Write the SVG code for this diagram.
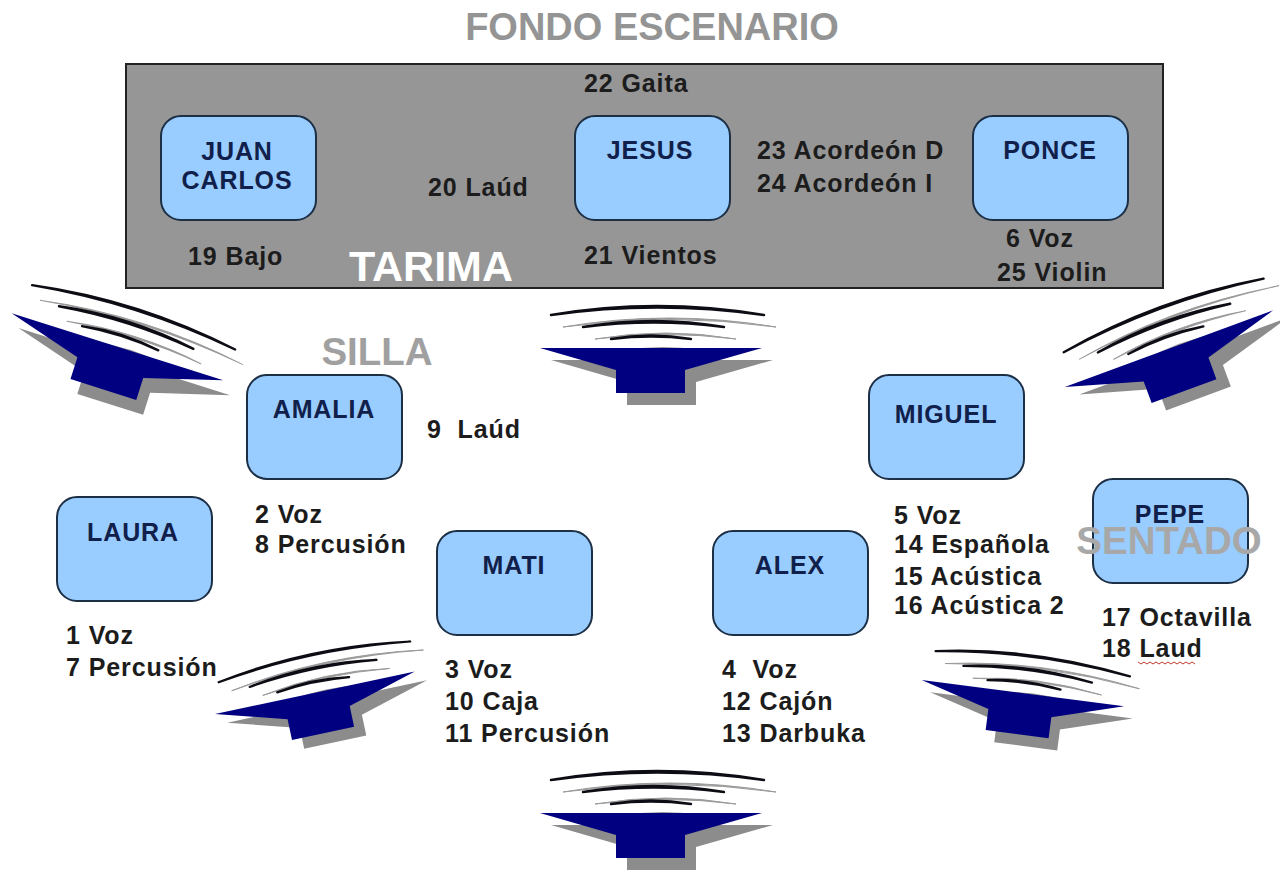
<svg xmlns="http://www.w3.org/2000/svg" width="1280" height="870" viewBox="0 0 1280 870">
<style>
text{font-family:"Liberation Sans",Arial,sans-serif;font-weight:bold;fill:#1c1c1c;font-size:25px;letter-spacing:.9px}
.n{fill:#99ccff;stroke:#1c2f45;stroke-width:2}
.t{fill:#10204a}
.m{text-anchor:middle}
.g{fill:#949494;letter-spacing:0}
.a{fill:#0c0c14;stroke:#0c0c14;stroke-width:2.4;stroke-linejoin:round}
.s{fill:#8c8c8c}
.w{fill:#9a9a9a;stroke:#9a9a9a;stroke-width:1}
</style>
<defs>
<path id="body" d="M-110,0H112L35,22V45H-34V22Z"/>
<g id="arcs">
<path d="M-99,-33Q7,-51 114,-33Q7,-48 -99,-33Z"/>
<path d="M-67,-21Q4,-33 74,-21Q4,-30 -67,-21Z"/>
<path d="M-39,-9Q1,-16 41,-9Q1,-14 -39,-9Z"/>
</g>
<g id="sp">
<use href="#body" x="11" y="12" class="s"/>
<use href="#arcs" x="12" y="12" class="w"/>
<use href="#body" fill="#000080"/>
<use href="#arcs" class="a"/>
</g>
</defs>
<rect width="1280" height="870" fill="#fff"/>
<g id="speakers">
<use href="#sp" transform="translate(116.5,346.5) rotate(17.6)"/>
<use href="#sp" transform="translate(650,348)"/>
<use href="#sp" transform="translate(1168,349) rotate(-20.2)"/>
<use href="#sp" transform="translate(314,693) rotate(-12) scale(.92)"/>
<use href="#sp" transform="translate(1022,693) rotate(7.4) scale(.92)"/>
<use href="#sp" transform="translate(650,813)"/>
</g>
<g id="tarima">
<rect x="126" y="64" width="1037" height="224" fill="#969696" stroke="#222" stroke-width="2"/>
<text x="652" y="40" class="m g" style="font-size:38px">FONDO ESCENARIO</text>
<text x="431" y="281" class="m" style="fill:#fff;font-size:43px;letter-spacing:0">TARIMA</text>
</g>
<text x="377" y="365" class="m g" style="font-size:38.5px;fill:#a0a0a0">SILLA</text>
<g id="juan"><rect class="n" x="161" y="116" width="155" height="104" rx="20"/><text x="237" y="160" class="m t">JUAN</text><text x="237" y="189" class="m t">CARLOS</text></g>
<g id="jesus"><rect class="n" x="575" y="116" width="155" height="104" rx="20"/><text x="650" y="159" class="m t">JESUS</text></g>
<g id="ponce"><rect class="n" x="973" y="116" width="155" height="104" rx="20"/><text x="1050" y="159" class="m t">PONCE</text></g>
<g id="amalia"><rect class="n" x="247" y="375" width="155" height="104" rx="20"/><text x="324" y="418" class="m t">AMALIA</text></g>
<g id="miguel"><rect class="n" x="869" y="375" width="155" height="104" rx="20"/><text x="946" y="423" class="m t">MIGUEL</text></g>
<g id="laura"><rect class="n" x="57" y="497" width="155" height="104" rx="20"/><text x="133" y="541" class="m t">LAURA</text></g>
<g id="mati"><rect class="n" x="437" y="531" width="155" height="104" rx="20"/><text x="514" y="574" class="m t">MATI</text></g>
<g id="alex"><rect class="n" x="713" y="531" width="155" height="104" rx="20"/><text x="790" y="574" class="m t">ALEX</text></g>
<g id="pepe"><rect class="n" x="1093" y="479" width="155" height="104" rx="20"/><text x="1170" y="523" class="m t">PEPE</text></g>
<text x="1169" y="554" class="m g" style="font-size:38.5px;fill:#a8a8a8">SENTADO</text>
<g id="labels">
<text x="584" y="92">22 Gaita</text>
<text x="428" y="196">20 Laúd</text>
<text x="757" y="159">23 Acordeón D</text>
<text x="757" y="192">24 Acordeón I</text>
<text x="188" y="265">19 Bajo</text>
<text x="584" y="264">21 Vientos</text>
<text x="1006" y="247">6 Voz</text>
<text x="997" y="281">25 Violin</text>
<text x="427" y="438" xml:space="preserve">9  Laúd</text>
<text x="255" y="523">2 Voz</text>
<text x="255" y="553">8 Percusión</text>
<text x="66" y="644">1 Voz</text>
<text x="66" y="676">7 Percusión</text>
<text x="445" y="678">3 Voz</text>
<text x="445" y="710">10 Caja</text>
<text x="445" y="742">11 Percusión</text>
<text x="722" y="678" xml:space="preserve">4  Voz</text>
<text x="722" y="710">12 Cajón</text>
<text x="722" y="742">13 Darbuka</text>
<text x="894" y="524">5 Voz</text>
<text x="894" y="553">14 Española</text>
<text x="894" y="585">15 Acústica</text>
<text x="894" y="614">16 Acústica 2</text>
<text x="1102" y="626">17 Octavilla</text>
<text x="1102" y="657">18 Laud</text>
</g>
<path id="squiggle" d="M1138,662l3,2 3,-2 3,2 3,-2 3,2 3,-2 3,2 3,-2 3,2 3,-2 3,2 3,-2 3,2 3,-2 3,2 3,-2 3,2 3,-2 3,2" fill="none" stroke="#c0392b" stroke-width="1"/>
</svg>
